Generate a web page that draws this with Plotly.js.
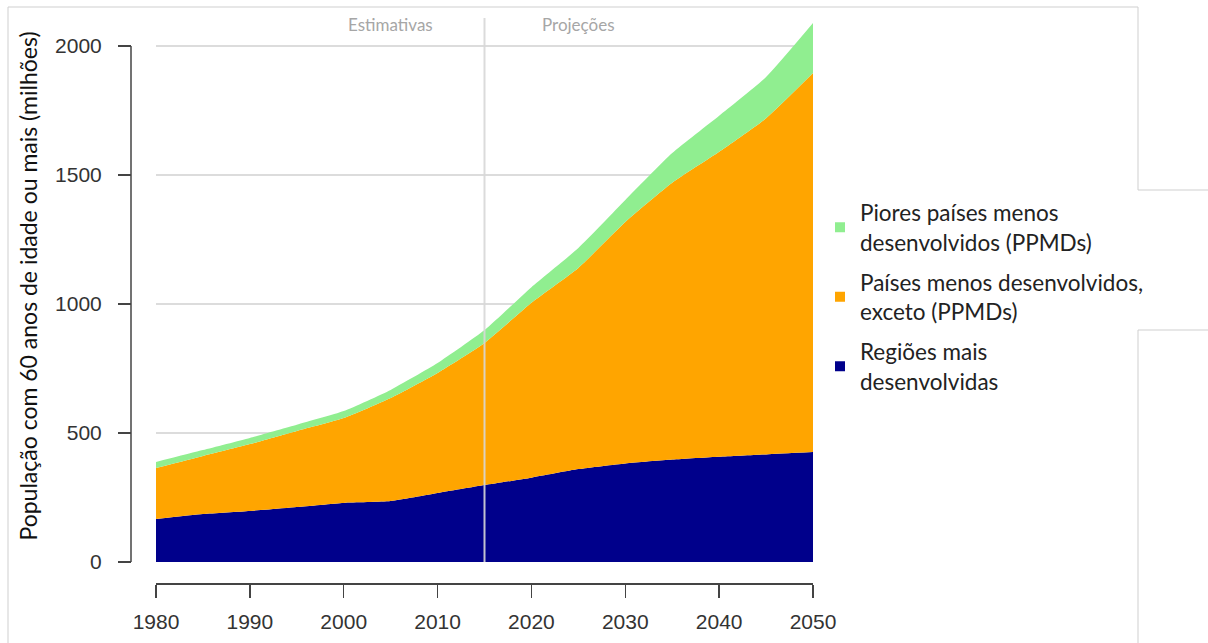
<!DOCTYPE html>
<html>
<head>
<meta charset="utf-8">
<script src="https://cdn.plot.ly/plotly-3.0.1.min.js"></script>
<style>html,body{margin:0;padding:0;background:#fff;}#chart{width:1208px;height:643px;}</style>
</head>
<body>
<div id="chart"></div>
<script>
// ---- data (millions of people aged 60+) ----
const years = [1980,1985,1990,1995,2000,2005,2010,2015,2020,2025,2030,2035,2040,2045,2050];
const maisDesenvolvidas = [167,186,198,213,229,236,267,298,327,360,382,397,408,417,426];
const menosDesenvExceto = [197,225,259,295,329,400,466,551,678,780,936,1073,1182,1303,1469];
const pioresPPMD        = [24,23,24,24,27,31,38,50,60,77,85,115,140,160,194];
const seriesNames = ["Piores países menos<br>desenvolvidos (PPMDs)",
                     "Países menos desenvolvidos,<br>exceto (PPMDs)",
                     "Regiões mais<br>desenvolvidas"];
const xTicks = [1980,1990,2000,2010,2020,2030,2040,2050];
const yTicks = [0,500,1000,1500,2000];
const splitYear = 2015;
const periodLabels = ["Estimativas","Projeções"];
const yTitle = "População com 60 anos de idade ou mais (milhões)";

// ---- layout geometry ----
const W = 1208, H = 643;
const L = 131, R = 395, T = 10, B = 60;
const pw = W - L - R, ph = H - T - B;
const px = x => (x - L) / pw;          // pixel -> paper x
const py = y => (H - B - y) / ph;      // pixel -> paper y
const yDomStart = py(562);
const yPerUnit = (py(46) - py(562)) / 2000;
const yMax = (1 - yDomStart) / yPerUnit;

const colors = {green:"#90EE90", orange:"#FFA500", blue:"#00008B"};
const ff = "Lato, 'Open Sans', sans-serif";
const tf = "'Liberation Sans', Arial, sans-serif";

const traces = [
  {x: years, y: maisDesenvolvidas, stackgroup: "one", mode: "none", fillcolor: colors.blue,
   line:{shape:"spline", smoothing:0.5, width:0}, showlegend:false, hoverinfo:"skip"},
  {x: years, y: menosDesenvExceto, stackgroup: "one", mode: "none", fillcolor: colors.orange,
   line:{shape:"spline", smoothing:0.5, width:0}, showlegend:false, hoverinfo:"skip"},
  {x: years, y: pioresPPMD, stackgroup: "one", mode: "none", fillcolor: colors.green,
   line:{shape:"spline", smoothing:0.5, width:0}, showlegend:false, hoverinfo:"skip"},
  // legend entries
  {x:[null], y:[null], mode:"markers", name: seriesNames[0], legendgroup:"a",
   marker:{symbol:"square", size:10, color:colors.green}},
  {x:[null], y:[null], mode:"markers", name: seriesNames[1], legendgroup:"b",
   marker:{symbol:"square", size:10, color:colors.orange}},
  {x:[null], y:[null], mode:"markers", name: seriesNames[2], legendgroup:"c",
   marker:{symbol:"square", size:10, color:colors.blue}}
];

const border = "#cfcfcf";
const shapes = [
  // y axis spine, 0..2000
  {type:"line", xref:"paper", yref:"y", x0:0, x1:0, y0:yTicks[0], y1:yTicks[yTicks.length-1],
   line:{color:"#444", width:1.5}},
  // estimate / projection divider
  {type:"line", xref:"x", yref:"paper", x0:splitYear, x1:splitYear, y0:py(562), y1:py(18),
   line:{color:"rgba(215,215,215,0.9)", width:2}, layer:"above"},
  // frame fragments of the source picture
  {type:"line", xref:"paper", yref:"paper", x0:px(8), x1:px(8), y0:py(7), y1:py(643), line:{color:border,width:1}},
  {type:"line", xref:"paper", yref:"paper", x0:px(8), x1:px(1138), y0:py(7), y1:py(7), line:{color:border,width:1}},
  {type:"line", xref:"paper", yref:"paper", x0:px(1138), x1:px(1138), y0:py(7), y1:py(190), line:{color:border,width:1}},
  {type:"line", xref:"paper", yref:"paper", x0:px(1138), x1:px(1208), y0:py(190), y1:py(190), line:{color:border,width:1}},
  {type:"line", xref:"paper", yref:"paper", x0:px(1138), x1:px(1208), y0:py(330), y1:py(330), line:{color:border,width:1}},
  {type:"line", xref:"paper", yref:"paper", x0:px(1138), x1:px(1138), y0:py(330), y1:py(643), line:{color:border,width:1}}
];

const annotations = [
  {text: periodLabels[0], x: splitYear-10, xref:"x", y: py(25), yref:"paper", yanchor:"middle",
   showarrow:false, font:{family:ff, size:17, color:"#a6a6a6"}},
  {text: periodLabels[1], x: splitYear+10, xref:"x", y: py(25), yref:"paper", yanchor:"middle",
   showarrow:false, font:{family:ff, size:17, color:"#a6a6a6"}}
];

const layout = {
  width: W, height: H,
  margin: {l:L, r:R, t:T, b:B, pad:0},
  paper_bgcolor: "#fff", plot_bgcolor: "rgba(0,0,0,0)",
  showlegend: true,
  legend: {x: px(820), xanchor:"left", y: py(297), yanchor:"middle",
           font:{family:ff, size:22.5, color:"#222"}, tracegroupgap: 8,
           traceorder:"grouped", bgcolor:"rgba(0,0,0,0)"},
  xaxis: {domain:[px(156), 1], range:[years[0], years[years.length-1]],
          anchor:"free", position:0, showline:true, linecolor:"#444", linewidth:1.5,
          ticks:"outside", ticklen:13, tickwidth:1.5, tickcolor:"#444",
          tickvals:xTicks, showgrid:false, zeroline:false, ticklabelstandoff:6,
          tickfont:{family:tf, size:21, color:"#333"}},
  yaxis: {domain:[yDomStart, 1], range:[0, yMax], anchor:"free", position:0,
          showline:false, ticks:"outside", ticklen:13, tickwidth:1.5, tickcolor:"#444",
          tickvals:yTicks, showgrid:true, gridcolor:"#dcdcdc", gridwidth:1.2, zeroline:false,
          ticklabelstandoff:12,
          tickfont:{family:tf, size:21, color:"#333"},
          title:{text:yTitle, standoff:10, font:{family:ff, size:23, color:"#111"}}},
  shapes: shapes,
  annotations: annotations
};

Plotly.newPlot("chart", traces, layout, {staticPlot:true, displayModeBar:false});
</script>
</body>
</html>
